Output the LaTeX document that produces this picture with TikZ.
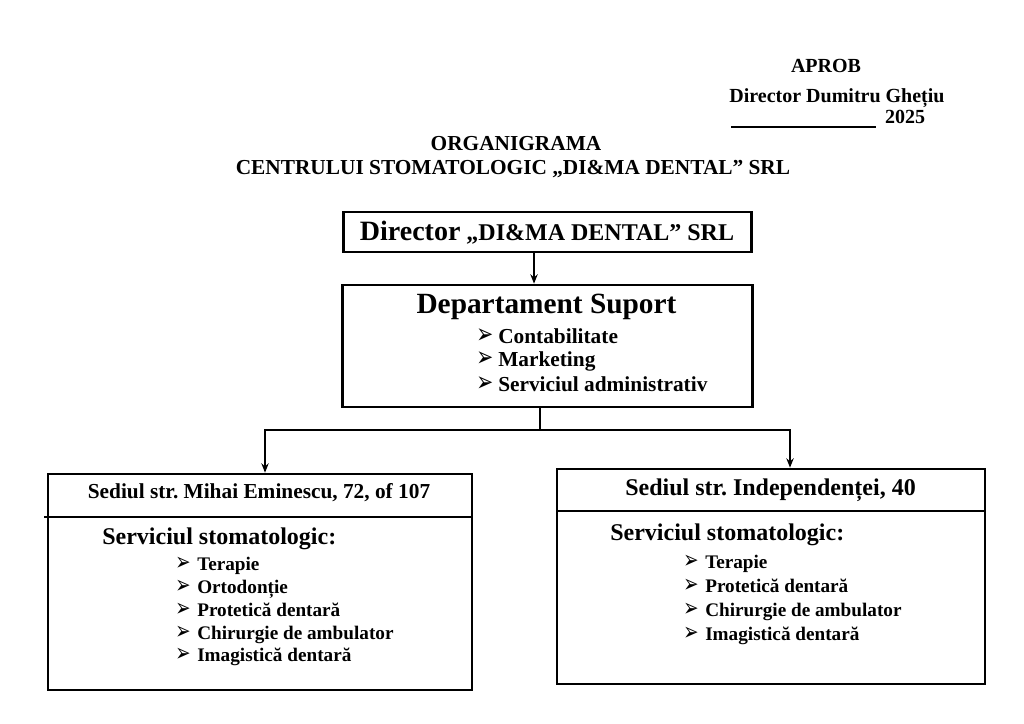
\documentclass[tikz,border=0pt]{standalone}
\usepackage{fontspec}
\setmainfont{Liberation Serif}
\newfontfamily\symfont{DejaVu Sans}
\usetikzlibrary{arrows.meta}
\frenchspacing

\def\px{0.75pt}
\newcommand{\sz}[1]{\fontsize{#1pt}{#1pt}\selectfont}
\newcommand{\arrbul}{\makebox[15pt][l]{\hspace{-1.5pt}\scalebox{0.95}[1.3]{\symfont\char"27A2}}}

\tikzset{
    box/.style={draw, line width=2pt, inner sep=0pt},
    conn/.style={line width=1.3pt},
    tip/.style={conn, -{Stealth[length=7pt,width=5.5pt]}},
    lbl/.style={inner sep=0pt, text height=0.66em, text depth=0pt, font=\bfseries\sz{#1}},
    item/.style={lbl=#1, anchor=west},
}

\begin{document}
\begin{tikzpicture}[x=0.75pt,y=-0.75pt]
    \useasboundingbox (0,0) rectangle (1024,724);

    % Approval block
    \node[lbl=15] (aprob) at (826,68) {APROB};
    \node[lbl=15] (semn) at (837,98) {Director Dumitru Ghețiu};
    \node[lbl=15] (an) at (905,119) {2025};
    \coordinate (sigA) at (731,127);
    \coordinate (sigB) at (876,127);
    \draw[line width=1pt] (sigA) -- (sigB);

    % Title
    \node[lbl=16] (titlu) at (516,146) {ORGANIGRAMA};
    \node[lbl=16] (subtitlu) at (513,170) {CENTRULUI STOMATOLOGIC „DI\&MA DENTAL” SRL};

    % Boxes
    \node[box, minimum width=408*\px, minimum height=40*\px] (dir) at (547.5,232) {};
    \node[box, minimum width=410*\px, minimum height=122*\px] (dept) at (547.5,346) {};
    \node[box, minimum width=424*\px, minimum height=216*\px] (left) at (260,582) {};
    \node[box, minimum width=428*\px, minimum height=215*\px] (right) at (771,576.5) {};

    % Header dividers
    \coordinate (ldiv) at (44,517);
    \coordinate (rdiv) at (557,511);
    \draw[line width=1.8pt] (ldiv) -- (left.east |- ldiv);
    \draw[line width=1.8pt] (rdiv) -- (right.east |- rdiv);

    % Director
    \node[lbl=18] (dirtxt) at (547,236) {{\sz{21}Director} „DI\&MA DENTAL” SRL};

    % Departament Suport
    \node[lbl=22] (depttxt) at (546.5,309) {Departament Suport};
    \foreach \y/\t [count=\i] in {339/Contabilitate, 362/Marketing, 387.5/Serviciul administrativ} {
        \node[item=16] (ditem\i) at (478,\y) {\arrbul\t};
    }

    % Left office
    \node[lbl=16] (lhead) at (259,494.5) {Sediul str. Mihai Eminescu, 72, of 107};
    \node[item=18] (lserv) at (102,540) {Serviciul stomatologic:};
    \foreach \y/\t [count=\i] in {566/Terapie, 589/Ortodonție, 612/Protetică dentară,
                                  635/Chirurgie de ambulator, 657.5/Imagistică dentară} {
        \node[item=14.4] (litem\i) at (177,\y) {\arrbul\t};
    }

    % Right office
    \node[lbl=18] (rhead) at (770.5,491) {Sediul str. Independenței, 40};
    \node[item=18] (rserv) at (610,536) {Serviciul stomatologic:};
    \foreach \y/\t [count=\i] in {564/Terapie, 588/Protetică dentară,
                                  612/Chirurgie de ambulator, 636/Imagistică dentară} {
        \node[item=14.4] (ritem\i) at (685,\y) {\arrbul\t};
    }

    % Connectors
    \coordinate (split) at (540,430);
    \draw[tip] ([xshift=-13.5*\px]dir.south) -- ([xshift=-13.5*\px]dept.north);
    \draw[conn] ([xshift=-7.5*\px]dept.south) -- (split);
    \draw[tip] (split) -| ([xshift=5*\px]left.north);
    \draw[tip] (split) -| ([xshift=19*\px]right.north);
\end{tikzpicture}
\end{document}
